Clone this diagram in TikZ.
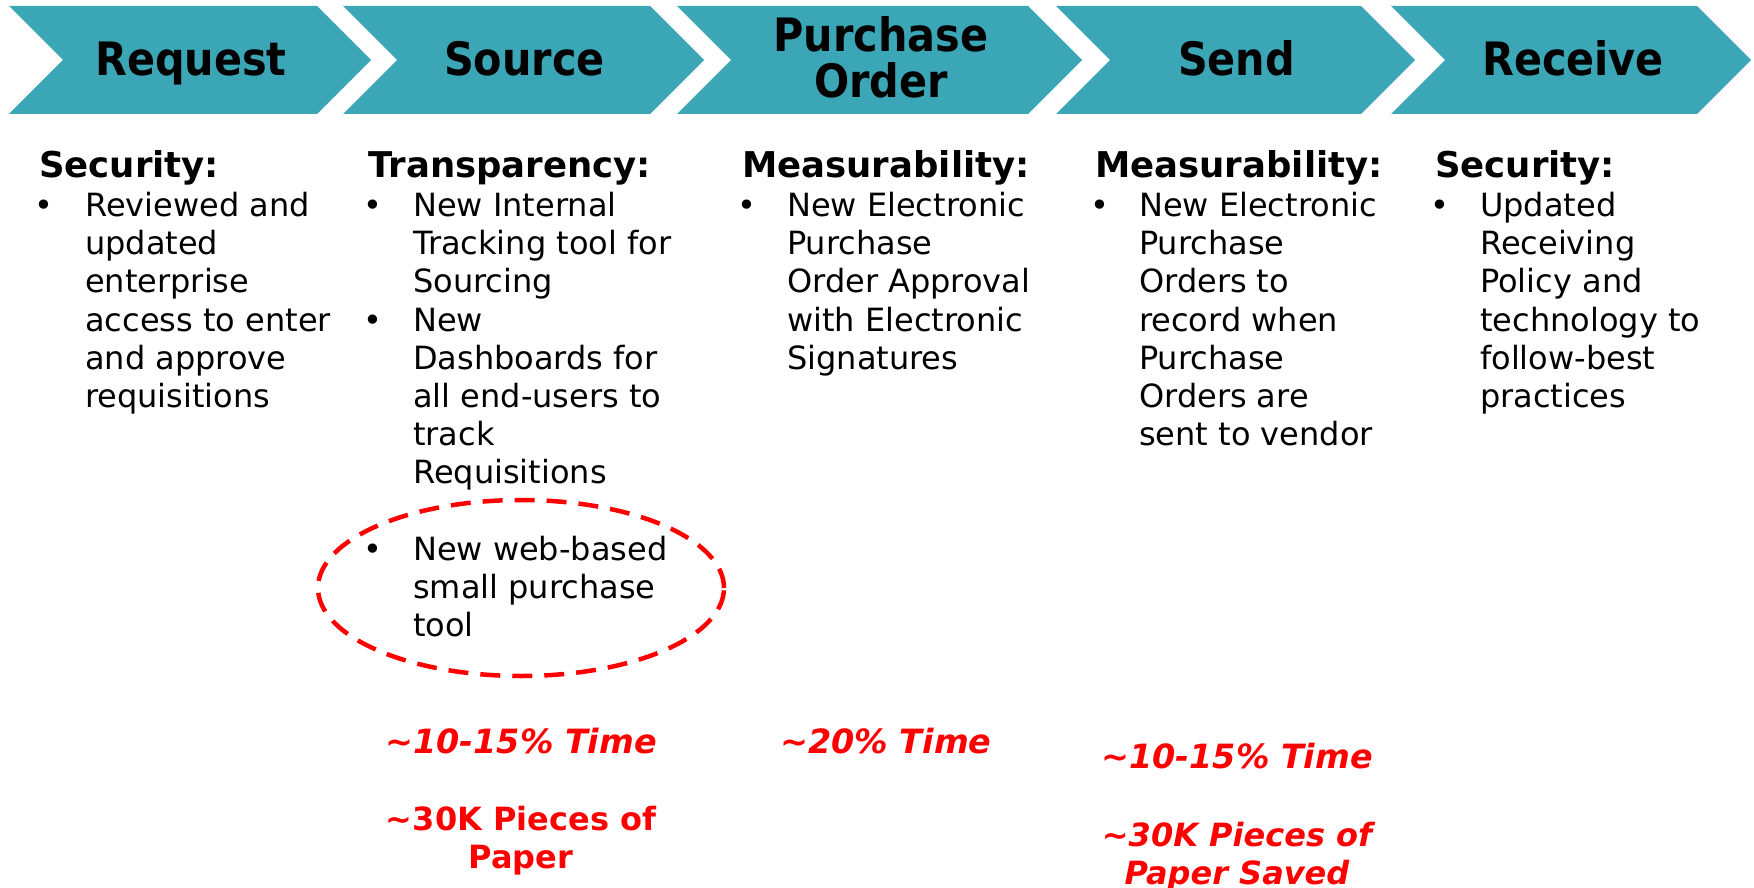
\documentclass[tikz,border=0pt]{standalone}
\usepackage{fontspec}
\setmainfont{DejaVu Sans}
\newfontfamily\chevfont{DejaVu Sans Condensed Bold}
\definecolor{chevteal}{RGB}{59,166,181}
\definecolor{statred}{RGB}{255,0,0}

\tikzset{
  chevron/.style={fill=chevteal},
  chevlabel/.style={font=\chevfont\fontsize{46}{46}\selectfont, inner sep=0pt, anchor=base},
  hdr/.style={font=\bfseries\fontsize{35.5}{42}\selectfont, inner sep=0pt, anchor=base west},
  body/.style={font=\fontsize{32}{38.2}\selectfont, inner sep=0pt, anchor=base west},
  stat/.style={font=\bfseries\itshape\fontsize{32}{38.4}\selectfont, text=statred, inner sep=0pt, anchor=base},
  stattime/.style={stat, font=\bfseries\itshape\fontsize{33.4}{38.4}\selectfont},
  statup/.style={stat, font=\bfseries\fontsize{32}{38.6}\selectfont},
  highlight/.style={draw=statred, line width=4.5pt, dash pattern=on 20pt off 12pt}
}

\begin{document}
\begin{tikzpicture}[x=1pt,y=-1pt]
\useasboundingbox (0,0) rectangle (1754,888);

% process chevrons
\fill[chevron] (9,6) -- (317,6) -- (371,60) -- (317,114) -- (9,114) -- (63,60) -- cycle;
\fill[chevron] (343,6) -- (650,6) -- (704,60) -- (650,114) -- (343,114) -- (397,60) -- cycle;
\fill[chevron] (677,6) -- (1028,6) -- (1082,60) -- (1028,114) -- (677,114) -- (731,60) -- cycle;
\fill[chevron] (1056,6) -- (1361,6) -- (1415,60) -- (1361,114) -- (1056,114) -- (1110,60) -- cycle;
\fill[chevron] (1391,6) -- (1697,6) -- (1751,60) -- (1697,114) -- (1391,114) -- (1445,60) -- cycle;

\node[chevlabel] (request) at (191,76) {Request};
\node[chevlabel] (source) at (524.5,76) {Source};
\node[chevlabel] (porder) at (881,51.5) {\parbox[t]{320pt}{\centering Purchase\\Order}};
\node[chevlabel] (send) at (1236.5,76) {Send};
\node[chevlabel] (receive) at (1573,76) {Receive};

% column 1
\node[hdr] (h1) at (39,177.4) {Security:};
\node[body] (b1) at (34,216.5) {\textbullet};
\node[body] (t1) at (85,216.5) {\parbox[t]{300pt}{Reviewed and\\updated\\enterprise\\access to enter\\and approve\\requisitions}};

% column 2
\node[hdr] (h2) at (368,177.4) {Transparency:};
\node[body] (b2a) at (363,216.5) {\textbullet};
\node[body] (t2a) at (413,216.5) {\parbox[t]{300pt}{New Internal\\Tracking tool for\\Sourcing}};
\node[body] (b2b) at (363,331.1) {\textbullet};
\node[body] (t2b) at (413,331.1) {\parbox[t]{300pt}{New\\Dashboards for\\all end-users to\\track\\Requisitions}};
\node[body] (b2c) at (363,560.3) {\textbullet};
\node[body] (t2c) at (413,560.3) {\parbox[t]{300pt}{New web-based\\small purchase\\tool}};
\draw[highlight] (521,588) ellipse [x radius=203pt, y radius=88pt];

% column 3
\node[hdr] (h3) at (742,177.4) {Measurability:};
\node[body] (b3) at (737,216.5) {\textbullet};
\node[body] (t3) at (787,216.5) {\parbox[t]{300pt}{New Electronic\\Purchase\\Order Approval\\with Electronic\\Signatures}};

% column 4
\node[hdr] (h4) at (1095,177.4) {Measurability:};
\node[body] (b4) at (1090,216.5) {\textbullet};
\node[body] (t4) at (1139,216.5) {\parbox[t]{300pt}{New Electronic\\Purchase\\Orders to\\record when\\Purchase\\Orders are\\sent to vendor}};

% column 5
\node[hdr] (h5) at (1435,177.4) {Security:};
\node[body] (b5) at (1430,216.5) {\textbullet};
\node[body] (t5) at (1480,216.5) {\parbox[t]{280pt}{Updated\\Receiving\\Policy and\\technology to\\follow-best\\practices}};

% savings figures
\node[stattime] (s2a) at (521,753) {\textasciitilde10-15\% Time};
\node[statup] (s2b) at (521,830) {\parbox[t]{400pt}{\centering\textasciitilde30K Pieces of\\Paper}};
\node[stattime] (s3) at (886,753) {\textasciitilde20\% Time};
\node[stattime] (s4a) at (1237,768.5) {\textasciitilde10-15\% Time};
\node[stat] (s4b) at (1237,846) {\parbox[t]{400pt}{\centering\textasciitilde30K Pieces of\\Paper Saved}};
\end{tikzpicture}
\end{document}
